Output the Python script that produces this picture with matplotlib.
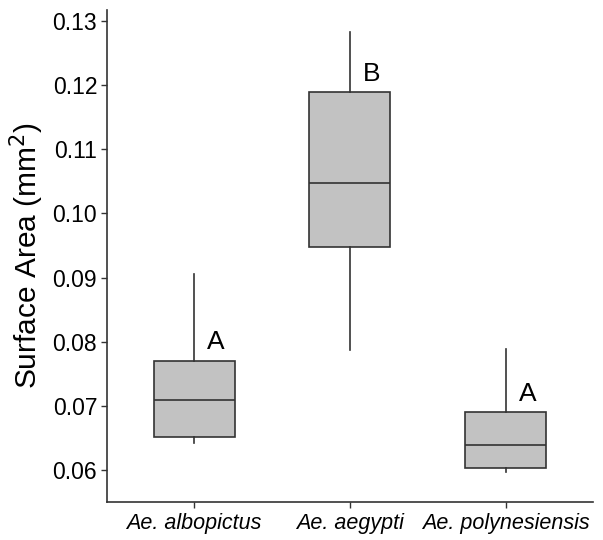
import matplotlib
matplotlib.use("Agg")
import matplotlib.pyplot as plt

plt.rcParams['font.family'] = ['Liberation Sans', 'DejaVu Sans']

species = ["Ae. albopictus", "Ae. aegypti", "Ae. polynesiensis"]
whisker_low = [0.0642, 0.0787, 0.0596]
q1 = [0.0651, 0.0948, 0.0603]
median = [0.0709, 0.1047, 0.0639]
q3 = [0.0770, 0.1189, 0.0690]
whisker_high = [0.0905, 0.1283, 0.0789]
letters = ["A", "B", "A"]

stats = []
for i, name in enumerate(species):
    stats.append({"label": name, "whislo": whisker_low[i], "q1": q1[i], "med": median[i],
                  "q3": q3[i], "whishi": whisker_high[i], "fliers": []})

fig = plt.figure(figsize=(6.03, 5.40), dpi=100)
ax = fig.add_axes([0.1774, 0.0704, 0.806, 0.911])

line = dict(color="#333333", linewidth=1.2)
ax.bxp(stats, positions=[1, 2, 3], widths=0.52, patch_artist=True, showcaps=False,
       boxprops=dict(facecolor="#c2c2c2", edgecolor="#333333", linewidth=1.2),
       medianprops=line, whiskerprops=line)

# significance letters next to the upper hinge
for i, let in enumerate(letters):
    ax.text(i + 1 + 0.14, q3[i] + 0.0010, let, fontsize=19, ha="center", va="bottom")

ax.set_xlim(0.44, 3.56)
ax.set_ylim(0.0550, 0.1317)
ax.set_yticks([0.06, 0.07, 0.08, 0.09, 0.10, 0.11, 0.12, 0.13])
ax.set_yticklabels(["0.06", "0.07", "0.08", "0.09", "0.10", "0.11", "0.12", "0.13"])
ax.set_xticks([1, 2, 3])
ax.set_xticklabels(species, fontstyle="italic", fontsize=15.5)
ax.tick_params(axis="y", labelsize=16.5, length=4, width=1, color="#333333", pad=3)
ax.tick_params(axis="x", length=4, width=1, color="#333333", pad=4)
ax.set_ylabel("Surface Area (mm$^2$)", fontsize=21.5, labelpad=5)

for s in ["top", "right"]:
    ax.spines[s].set_visible(False)
for s in ["left", "bottom"]:
    ax.spines[s].set_linewidth(1.2)
    ax.spines[s].set_color("#333333")

fig.savefig("out.png", dpi=100)
